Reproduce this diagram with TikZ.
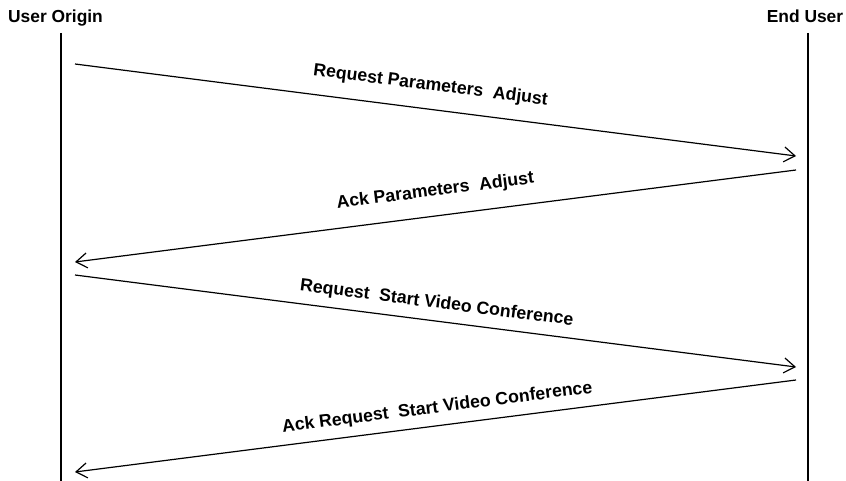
\documentclass[tikz,border=0pt]{standalone}
\usepackage{fontspec}
\setmainfont{Liberation Sans}
\usetikzlibrary{arrows.meta}
\begin{document}
\begin{tikzpicture}[x=1pt, y=-1pt,
  actor/.style={font=\bfseries\fontsize{17.4}{19}\selectfont, inner sep=0pt, anchor=base},
  lifeline/.style={line width=2pt},
  msg/.style={line width=1.2pt, -{Straight Barb[length=11pt,width=15pt,line width=1.2pt]}},
  msglabel/.style={font=\bfseries\fontsize{17.7}{19}\selectfont, inner sep=0pt, sloped, anchor=base}]
  \useasboundingbox (0,0) rectangle (846,481);

  % participants
  \node[actor] (uo) at (55.5,23) {User Origin};
  \node[actor] (eu) at (805,23) {End User};

  % lifelines
  \coordinate (uoTop) at (61,33);
  \coordinate (uoBot) at (61,481);
  \coordinate (euTop) at (808,33);
  \coordinate (euBot) at (808,481);
  \draw[lifeline] (uoTop) -- (uoBot);
  \draw[lifeline] (euTop) -- (euBot);

  % message end points
  \coordinate (m1s) at (75,64);   \coordinate (m1e) at (796,156);
  \coordinate (m2s) at (796,170); \coordinate (m2e) at (75,262);
  \coordinate (m3s) at (75,275);  \coordinate (m3e) at (796,367);
  \coordinate (m4s) at (796,380); \coordinate (m4e) at (75,472);

  % messages
  \draw[msg] (m1s) -- node[msglabel, xshift=-8pt, yshift=19pt] (l1) {Request Parameters\ \ Adjust} (m1e);
  \draw[msg] (m2s) -- node[msglabel, xshift=3pt, yshift=20pt] (l2) {Ack Parameters\ \ Adjust} (m2e);
  \draw[msg] (m3s) -- node[msglabel, xshift=-1pt, yshift=13pt] (l3) {Request\ \ Start Video Conference} (m3e);
  \draw[msg] (m4s) -- node[msglabel, xshift=4pt, yshift=13pt] (l4) {Ack Request\ \ Start Video Conference} (m4e);
\end{tikzpicture}
\end{document}
